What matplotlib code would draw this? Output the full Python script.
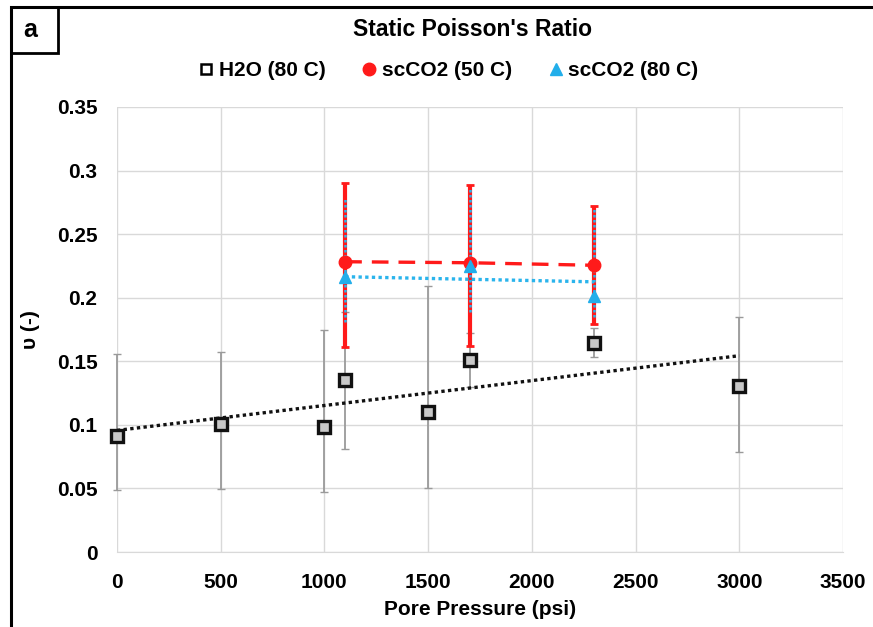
import numpy as np
import matplotlib
matplotlib.use("Agg")
import matplotlib.pyplot as plt
from matplotlib.patches import Rectangle

plt.rcParams['font.family'] = ['Liberation Sans', 'DejaVu Sans']
plt.rcParams['font.weight'] = 'bold'

# H2O (80 C)
h2o_p = [0, 500, 1000, 1100, 1500, 1700, 2300, 3000]
h2o_v = [0.0915, 0.101, 0.0986, 0.135, 0.110, 0.151, 0.1646, 0.1308]
h2o_lo = [0.0488, 0.0495, 0.047, 0.081, 0.0506, 0.130, 0.153, 0.0789]
h2o_hi = [0.1555, 0.157, 0.1746, 0.189, 0.2095, 0.172, 0.176, 0.1846]

# scCO2 (50 C)
co2_50_p = [1100, 1700, 2300]
co2_50_v = [0.2283, 0.2275, 0.2255]
co2_50_lo = [0.1615, 0.1623, 0.179]
co2_50_hi = [0.290, 0.2887, 0.2721]

# scCO2 (80 C)
co2_80_p = [1100, 1700, 2300]
co2_80_v = [0.2165, 0.225, 0.2013]
co2_80_lo = [0.181, 0.189, 0.185]
co2_80_hi = [0.279, 0.2873, 0.2703]
co2_80_trend_p = [1100, 2300]
co2_80_trend_v = [0.2165, 0.2125]

x_ticks = [0, 500, 1000, 1500, 2000, 2500, 3000, 3500]
y_ticks = [0, 0.05, 0.1, 0.15, 0.2, 0.25, 0.3, 0.35]
y_tick_labels = ['0', '0.05', '0.1', '0.15', '0.2', '0.25', '0.3', '0.35']

W, H = 873, 627
fig = plt.figure(figsize=(W / 100, H / 100), dpi=100)
ax = fig.add_axes([117 / W, 1 - 552 / H, (843 - 117) / W, (552 - 107) / H])

grid_c = '#d9d9d9'
ax.set_xlim(0, 3500)
ax.set_ylim(0, 0.35)
ax.set_xticks(x_ticks)
ax.set_yticks(y_ticks)
ax.set_yticklabels(y_tick_labels)
ax.grid(True, color=grid_c, linewidth=1.0)
ax.set_axisbelow(True)
for s in ['left', 'right', 'top']:
    ax.spines[s].set_visible(False)
ax.spines['bottom'].set_color(grid_c)
ax.tick_params(axis='x', length=0, labelsize=15, pad=15)
ax.tick_params(axis='y', length=0, labelsize=15, pad=14)
for lab in ax.get_xticklabels() + ax.get_yticklabels():
    lab.set_fontweight('bold')

# H2O error bars
h2o_v_a = np.array(h2o_v)
eb = ax.errorbar(h2o_p, h2o_v, yerr=[h2o_v_a - np.array(h2o_lo), np.array(h2o_hi) - h2o_v_a],
                 fmt='none', ecolor='#9a9a9a', elinewidth=1.3, capsize=3, capthick=1.0, zorder=2)
for c in eb[1]:
    c.set_clip_on(False)
for c in eb[2]:
    c.set_clip_on(False)

# linear trend of H2O data
slope, icpt = np.polyfit(h2o_p, h2o_v, 1)
tx = np.array([0, 3000])
ax.plot(tx, slope * tx + icpt, linestyle=(0, (1, 1)), color='#111111', linewidth=2.4, zorder=3)

# scCO2 50 C
v50 = np.array(co2_50_v)
ax.errorbar(co2_50_p, co2_50_v, yerr=[v50 - np.array(co2_50_lo), np.array(co2_50_hi) - v50],
            fmt='none', ecolor='#ff1a1a', elinewidth=3.0, capsize=3, capthick=2, zorder=4)
ax.plot(co2_50_p, co2_50_v, linestyle=(0, (5, 3)), color='#ff1a1a', linewidth=2.4, zorder=5)
ax.plot(co2_50_p, co2_50_v, 'o', color='#ff1a1a', markersize=9, zorder=7)

# scCO2 80 C
v80 = np.array(co2_80_v)
eb80 = ax.errorbar(co2_80_p, co2_80_v, yerr=[v80 - np.array(co2_80_lo), np.array(co2_80_hi) - v80],
                   fmt='none', ecolor='#2ab4ec', elinewidth=1.8, capsize=0, zorder=5)
for c in eb80[2]:
    c.set_linestyle((0, (1, 1)))
ax.plot(co2_80_trend_p, co2_80_trend_v, linestyle=(0, (1, 1)), color='#2ab4ec', linewidth=2.4, zorder=6)
ax.plot(co2_80_p, co2_80_v, '^', color='#22aeea', markersize=9, zorder=8)

ax.plot(h2o_p, h2o_v, 's', markerfacecolor='#c8c8c8', markeredgecolor='#111111',
        markeredgewidth=2.4, markersize=8, zorder=9, linestyle='none', clip_on=False)

ax.set_xlabel('Pore Pressure (psi)', fontsize=15, fontweight='bold', labelpad=6)
ax.set_ylabel('υ (-)', fontsize=15, fontweight='bold', labelpad=12)

fig.text(473 / W, 1 - 29 / H, "Static Poisson's Ratio", ha='center', va='center',
         fontsize=16.5, fontweight='bold')

# legend
handles = [
    plt.Line2D([], [], marker='s', linestyle='none', markerfacecolor='white',
               markeredgecolor='black', markeredgewidth=1.8, markersize=7),
    plt.Line2D([], [], marker='o', linestyle='none', color='#ff1a1a', markersize=9),
    plt.Line2D([], [], marker='^', linestyle='none', color='#22aeea', markersize=9),
]
fig.legend(handles, ['H2O (80 C)', 'scCO2 (50 C)', 'scCO2 (80 C)'], loc='center',
           bbox_to_anchor=(447 / W, 1 - 71 / H), ncol=3, frameon=False,
           handletextpad=0.1, columnspacing=1.6, handlelength=1.0,
           prop={'weight': 'bold', 'size': 15})

# outer frame and panel tag box
fig.patches.append(Rectangle((11 / W, -0.05), 1.2, 1 - 7 / H + 0.05,
                             transform=fig.transFigure, fill=False,
                             edgecolor='black', linewidth=2.2))
fig.patches.append(Rectangle((11 / W, 1 - 53 / H), 47 / W, 46 / H,
                             transform=fig.transFigure, fill=False,
                             edgecolor='black', linewidth=2.0))
fig.text(30 / W, 1 - 30 / H, 'a', ha='center', va='center', fontsize=18, fontweight='bold')

fig.savefig('out.png', dpi=100, facecolor='white')
